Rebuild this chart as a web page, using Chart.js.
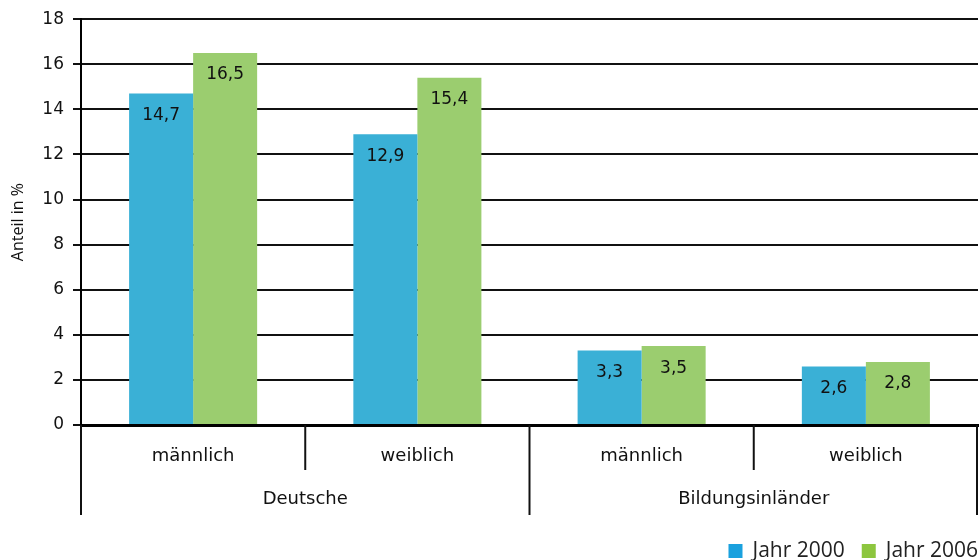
<!DOCTYPE html>
<html>
<head>
<meta charset="utf-8">
<script src="https://cdn.jsdelivr.net/npm/chart.js@4/dist/chart.umd.min.js"></script>
<style>
html,body{margin:0;padding:0;background:#fff;}
#wrap{width:980px;height:560px;position:relative;}
</style>
</head>
<body>
<div id="wrap"><canvas id="c" width="980" height="560"></canvas></div>
<script>
const categories = ['männlich', 'weiblich', 'männlich', 'weiblich'];
const groups = ['Deutsche', 'Bildungsinländer'];
const seriesNames = ['Jahr 2000', 'Jahr 2006'];
const jahr2000 = [14.7, 12.9, 3.3, 2.6];
const jahr2006 = [16.5, 15.4, 3.5, 2.8];
const yTicks = [0, 2, 4, 6, 8, 10, 12, 14, 16, 18];
const barColors = ['#3AB0D6', '#9BCD6F'];
const legendColors = ['#1AA1DE', '#8DC63F'];

const tickFont = { family: 'DejaVu Sans', size: 17 };
const catFont = { family: 'DejaVu Sans', size: 18 };

const extras = {
  id: 'extras',
  afterDatasetsDraw(chart) {
    const ctx = chart.ctx;
    ctx.save();
    ctx.font = '17px "DejaVu Sans"';
    ctx.fillStyle = '#111';
    ctx.textAlign = 'center';
    ctx.textBaseline = 'middle';
    chart.data.datasets.forEach((ds, i) => {
      chart.getDatasetMeta(i).data.forEach((bar, j) => {
        ctx.fillText(String(ds.data[j]).replace('.', ','), bar.x, bar.y + 22);
      });
    });
    ctx.restore();
  },
  afterDraw(chart) {
    const ctx = chart.ctx;
    const x = chart.scales.x;
    const area = chart.chartArea;
    const b = area.bottom;
    const px = i => x.getPixelForValue(i);
    ctx.save();
    ctx.strokeStyle = '#111';
    ctx.lineWidth = 2;
    const line = (xx, y2) => { ctx.beginPath(); ctx.moveTo(xx, b); ctx.lineTo(xx, y2); ctx.stroke(); };
    // inner separators
    line((px(0) + px(1)) / 2, b + 45);
    line((px(2) + px(3)) / 2, b + 45);
    // outer separators
    line(area.left, b + 90);
    line((px(1) + px(2)) / 2, b + 90);
    line(area.right - 1, b + 90);
    // group labels
    ctx.font = '18px "DejaVu Sans"';
    ctx.fillStyle = '#111';
    ctx.textAlign = 'center';
    ctx.textBaseline = 'middle';
    ctx.fillText(groups[0], (px(0) + px(1)) / 2, b + 74);
    ctx.fillText(groups[1], (px(2) + px(3)) / 2, b + 74);
    // legend
    ctx.font = '21px "Open Sans"';
    ctx.textAlign = 'left';
    let right = area.right;
    const ly = 551;
    for (let i = seriesNames.length - 1; i >= 0; i--) {
      const w = ctx.measureText(seriesNames[i]).width;
      const tx = right - w;
      ctx.fillStyle = '#222';
      ctx.fillText(seriesNames[i], tx, ly);
      ctx.fillStyle = legendColors[i];
      ctx.fillRect(tx - 24, ly - 7, 14, 14);
      right = tx - 24 - 17;
    }
    ctx.restore();
  }
};

new Chart(document.getElementById('c'), {
  type: 'bar',
  data: {
    labels: categories,
    datasets: [
      { label: seriesNames[0], data: jahr2000, backgroundColor: barColors[0] },
      { label: seriesNames[1], data: jahr2006, backgroundColor: barColors[1] }
    ]
  },
  options: {
    responsive: false,
    animation: false,
    devicePixelRatio: 1,
    categoryPercentage: 0.571,
    barPercentage: 1.0,
    layout: { padding: { top: 19, right: 2, bottom: 0, left: 0 } },
    plugins: { legend: { display: false }, tooltip: { enabled: false } },
    scales: {
      x: {
        grid: { display: false, drawTicks: false },
        border: { display: true, color: '#000', width: 3 },
        ticks: { font: catFont, color: '#111', padding: 21 },
        afterFit: s => { s.height = 135; }
      },
      y: {
        min: 0, max: 18,
        afterBuildTicks: s => { s.ticks = yTicks.map(v => ({ value: v })); },
        grid: { color: '#111', lineWidth: 2, tickLength: 8, drawTicks: true },
        border: { display: true, color: '#000', width: 2 },
        ticks: { font: tickFont, color: '#111', padding: 9 },
        title: { display: true, text: 'Anteil in %', font: { family: 'Open Sans', size: 16 }, color: '#111', padding: { top: 9, bottom: 0 } },
        afterFit: s => { s.width = 81; }
      }
    }
  },
  plugins: [extras]
});
</script>
</body>
</html>
